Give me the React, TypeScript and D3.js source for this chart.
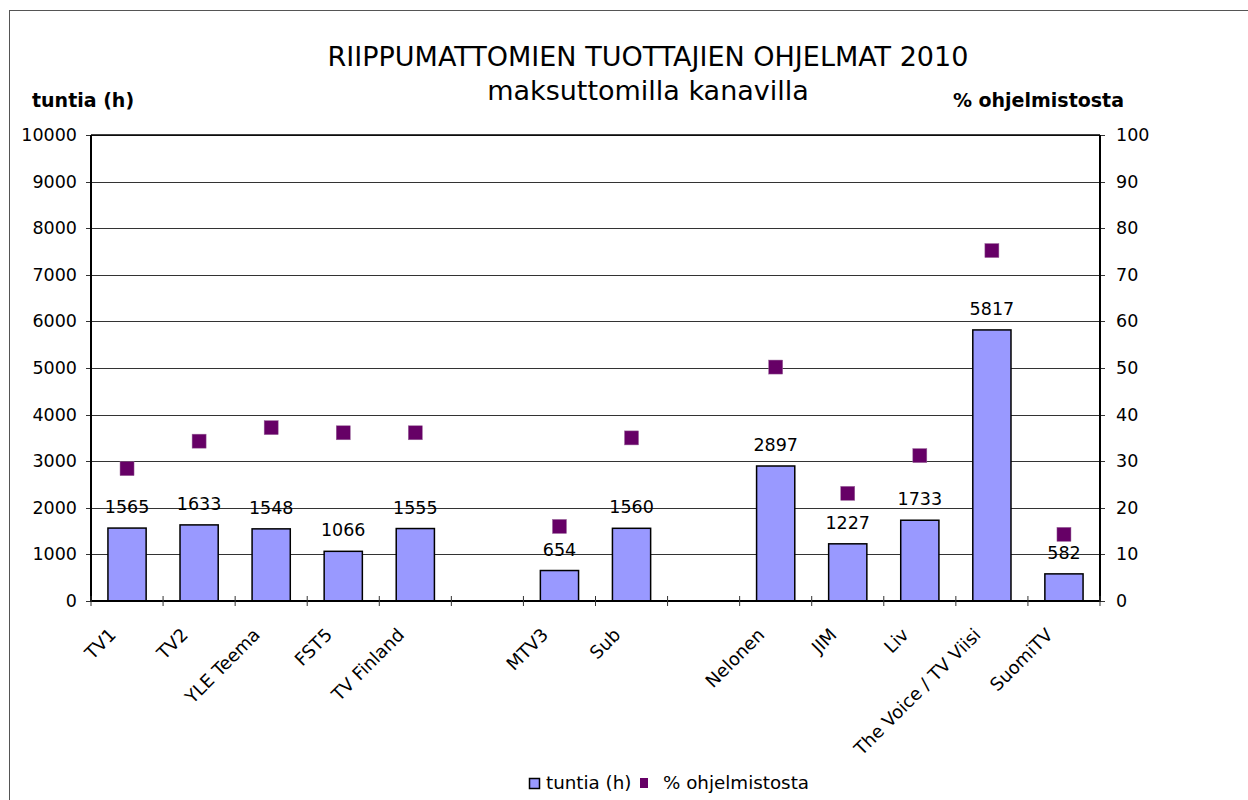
import React from "react";
import * as d3 from "d3";

const categories = ["TV1", "TV2", "YLE Teema", "FST5", "TV Finland", "", "MTV3", "Sub", " ", "Nelonen", "JIM", "Liv", "The Voice / TV Viisi", "SuomiTV"];
const hours: (number | null)[] = [1565, 1633, 1548, 1066, 1555, null, 654, 1560, null, 2897, 1227, 1733, 5817, 582];
const percent: (number | null)[] = [28.4, 34.3, 37.2, 36.1, 36.1, null, 16.0, 35.0, null, 50.2, 23.1, 31.2, 75.2, 14.3];
const leftTicks = [0, 1000, 2000, 3000, 4000, 5000, 6000, 7000, 8000, 9000, 10000];
const rightTicks = [0, 10, 20, 30, 40, 50, 60, 70, 80, 90, 100];
const titleLines = ["RIIPPUMATTOMIEN TUOTTAJIEN OHJELMAT 2010", "maksuttomilla kanavilla"];
const seriesNames = ["tuntia (h)", "% ohjelmistosta"];

const FONT = "'DejaVu Sans', Verdana, sans-serif";

export default function App() {
  const W = 1248, H = 800;
  const left = 91, right = 1100, top = 135, bottom = 601;
  const x = d3.scaleBand<number>().domain(d3.range(categories.length)).range([left, right]).paddingInner(0).paddingOuter(0);
  const yL = d3.scaleLinear().domain([0, 10000]).range([bottom, top]);
  const yR = d3.scaleLinear().domain([0, 100]).range([bottom, top]);
  const bw = x.bandwidth() * 0.53;
  const ms = 14;

  return (
    <svg width={W} height={H} style={{ position: "absolute", left: 0, top: 0 }} fontFamily={FONT}>
      <rect x={0} y={0} width={W} height={H} fill="#fff" />
      <rect x={9.5} y={10.5} width={W + 20} height={H + 20} fill="none" stroke="#555" strokeWidth={1} />
      {/* title */}
      <text x={648} y={66} textAnchor="middle" fontSize={27} fill="#000">{titleLines[0]}</text>
      <text x={648} y={100} textAnchor="middle" fontSize={27} fill="#000">{titleLines[1]}</text>
      <text x={32} y={107} fontSize={19} fontWeight="bold" fill="#000">tuntia (h)</text>
      <text x={1124} y={107} textAnchor="end" fontSize={19} fontWeight="bold" fill="#000">% ohjelmistosta</text>
      {/* gridlines */}
      {leftTicks.map((t) => (
        <line key={"g" + t} x1={left - 5} x2={right} y1={Math.round(yL(t)) + 0.5} y2={Math.round(yL(t)) + 0.5} stroke="#333" strokeWidth={1} />
      ))}
      {rightTicks.map((t) => (
        <line key={"rt" + t} x1={right} x2={right + 5} y1={Math.round(yR(t)) + 0.5} y2={Math.round(yR(t)) + 0.5} stroke="#333" strokeWidth={1} />
      ))}
      {/* bars */}
      {hours.map((v, i) =>
        v == null ? null : (
          <rect key={"b" + i} x={(x(i) as number) + (x.bandwidth() - bw) / 2} y={yL(v)} width={bw} height={yL(0) - yL(v)} fill="#9999FF" stroke="#000" strokeWidth={1.5} />
        )
      )}
      {hours.map((v, i) =>
        v == null ? null : (
          <text key={"l" + i} x={(x(i) as number) + x.bandwidth() / 2} y={yL(v) - 15} textAnchor="middle" fontSize={17.5} fill="#000">{v}</text>
        )
      )}
      {/* markers */}
      {percent.map((v, i) =>
        v == null ? null : (
          <rect key={"m" + i} x={(x(i) as number) + x.bandwidth() / 2 - ms / 2} y={yR(v) - ms / 2} width={ms} height={ms} fill="#660066" stroke="#99669a" strokeWidth={0.5} />
        )
      )}
      {/* axes */}
      <line x1={left} x2={left} y1={top} y2={bottom} stroke="#000" strokeWidth={2} />
      <line x1={right} x2={right} y1={top} y2={bottom} stroke="#000" strokeWidth={2} />
      <line x1={left} x2={right} y1={top} y2={top} stroke="#000" strokeWidth={1.5} />
      <line x1={left - 1} x2={right + 1} y1={bottom} y2={bottom} stroke="#000" strokeWidth={2} />
      {d3.range(categories.length + 1).map((i) => {
        const xx = left + i * x.step();
        return <line key={"xt" + i} x1={xx} x2={xx} y1={bottom - 5} y2={bottom + 5} stroke="#333" strokeWidth={1} />;
      })}
      {leftTicks.map((t) => (
        <text key={"lt" + t} x={77} y={yL(t) + 6} textAnchor="end" fontSize={17.5} fill="#000">{t}</text>
      ))}
      {rightTicks.map((t) => (
        <text key={"rl" + t} x={1116} y={yR(t) + 6} textAnchor="start" fontSize={17.5} fill="#000">{t}</text>
      ))}
      {categories.map((c, i) => {
        const cx = (x(i) as number) + x.bandwidth() / 2 - 10;
        const cy = 636;
        return (
          <text key={"c" + i} transform={`translate(${cx},${cy}) rotate(-45)`} textAnchor="end" fontSize={18} fill="#000">{c.trim()}</text>
        );
      })}
      {/* legend */}
      <rect x={529.5} y={778.5} width={10} height={10} fill="#9999FF" stroke="#000" strokeWidth={1.5} />
      <text x={546} y={789} fontSize={18.3} fill="#000">{seriesNames[0]}</text>
      <rect x={640} y={778} width={8} height={10} fill="#660066" />
      <text x={663} y={789} fontSize={18.3} fill="#000">{seriesNames[1]}</text>
    </svg>
  );
}
